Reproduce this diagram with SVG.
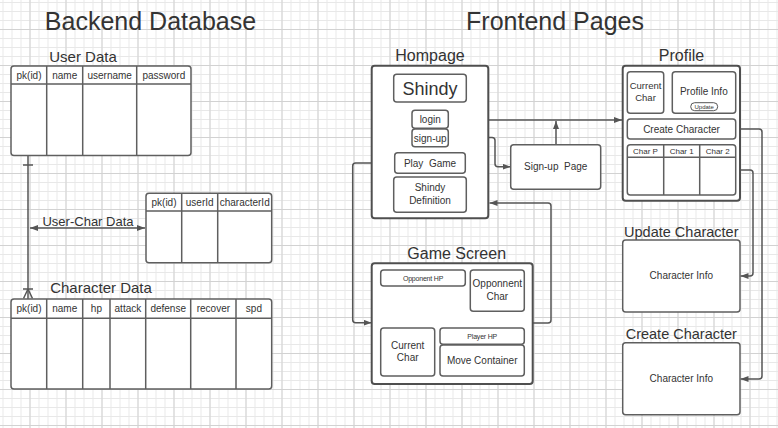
<svg xmlns="http://www.w3.org/2000/svg" width="778" height="428" viewBox="0 0 778 428">
<style>
text{font-family:"Liberation Sans",Arial,sans-serif;fill:#333;text-anchor:middle}
.box{fill:#fff;stroke:#5f5f5f;stroke-width:1.5}
.frame{fill:#fff;stroke:#4f4f4f;stroke-width:2}
.ln{stroke:#5f5f5f;stroke-width:1.5;fill:none}
.con{stroke:#555;stroke-width:1.5;fill:none}
.arr{marker-end:url(#ah)}
.t10{font-size:10px}
.title{font-size:25px}
.lab{font-size:15px}
.lab16{font-size:16px}
</style>
<defs>
<pattern id="gmin" patternUnits="userSpaceOnUse" x="2.5" y="2" width="9" height="9">
<path d="M0.5 0V9M0 0.5H9" stroke="#e8e8e8" stroke-width="1" fill="none"/>
</pattern>
<pattern id="gmaj" patternUnits="userSpaceOnUse" x="29.5" y="29" width="36" height="36">
<path d="M0.5 0V36M0 0.5H36" stroke="#d2d2d2" stroke-width="1" fill="none"/>
</pattern>
<marker id="ah" markerUnits="userSpaceOnUse" markerWidth="9" markerHeight="7" refX="8" refY="3" orient="auto-start-reverse">
<path d="M0,0 L8,3 L0,6 z" fill="#555"/>
</marker>
</defs>
<rect width="778" height="428" fill="#fff"/>
<rect width="778" height="428" fill="url(#gmin)"/>
<rect width="778" height="428" fill="url(#gmaj)"/>

<text class="title" x="150.5" y="30">Backend Database</text>
<text class="title" x="555" y="30">Frontend Pages</text>

<g id="connectors">
<path class="con" d="M28,156V299"/>
<path class="con" d="M23,165H33"/>
<path class="con" d="M23,289H33M28,289L23.5,298.5M28,289L32.5,298.5"/>
<path class="con" d="M30,228H145" marker-start="url(#ah)" marker-end="url(#ah)"/>
<text x="88" y="226" style="font-size:13px">User-Char Data</text>
<path class="con arr" d="M448.3,120H622"/>
<path class="con arr" d="M556,144.7V121"/>
<path class="con arr" d="M448.3,137.5H492Q495,137.5 495,140.5V163.7Q495,166.7 498,166.7H510.5"/>
<path class="con arr" d="M394.7,163H355.7Q352.7,163 352.7,166V319.7Q352.7,322.7 355.7,322.7H371.5"/>
<path class="con arr" d="M532.7,323H548Q551,323 551,320V206Q551,203 548,203H489.5"/>
<path class="con arr" d="M735.7,129H759Q762,129 762,132V376Q762,379 759,379H740.5"/>
<path class="con arr" d="M735.7,170H750Q753,170 753,173V273Q753,276 750,276H740.5"/>
</g>

<g id="user-data">
<text class="lab" x="83" y="62">User Data</text>
<rect class="box" x="11" y="66" width="180" height="89.5" rx="3"/>
<path class="ln" d="M11,84H191M46.7,66V155.5M82.7,66V155.5M136.7,66V155.5"/>
<text class="t10" x="29" y="78.5">pk(id)</text>
<text class="t10" x="64.7" y="78.5">name</text>
<text class="t10" x="109.7" y="78.5">username</text>
<text class="t10" x="163.8" y="78.5">password</text>
</g>

<g id="user-char-data">
<rect class="box" x="146" y="193.3" width="125.7" height="69.4" rx="3"/>
<path class="ln" d="M146,211H271.7M181.7,193.3V262.7M217.7,193.3V262.7"/>
<text class="t10" x="164" y="205.5">pk(id)</text>
<text class="t10" x="199.7" y="205.5">userId</text>
<text class="t10" x="244.7" y="205.5">characterId</text>
</g>

<g id="character-data">
<text class="lab" x="101" y="293">Character Data</text>
<rect class="box" x="11" y="299" width="260.7" height="90" rx="3"/>
<path class="ln" d="M11,318.3H271.7M46.7,299V389M82.7,299V389M110,299V389M145.7,299V389M190.7,299V389M236,299V389"/>
<text class="t10" x="29" y="311.5">pk(id)</text>
<text class="t10" x="64.7" y="311.5">name</text>
<text class="t10" x="96.4" y="311.5">hp</text>
<text class="t10" x="127.9" y="311.5">attack</text>
<text class="t10" x="168.2" y="311.5">defense</text>
<text class="t10" x="213.4" y="311.5">recover</text>
<text class="t10" x="253.9" y="311.5">spd</text>
</g>

<g id="hompage">
<text class="lab16" x="430" y="61">Hompage</text>
<rect class="frame" x="371.7" y="65.7" width="116.6" height="152.6" rx="3"/>
<rect class="box" x="393.7" y="74.3" width="72.6" height="27.7" rx="3"/>
<text x="430" y="94.5" style="font-size:18px">Shindy</text>
<rect class="box" x="412" y="110.3" width="36.3" height="18" rx="3"/>
<text class="t10" x="430.2" y="123">login</text>
<rect class="box" x="412" y="129" width="36.3" height="17.7" rx="3"/>
<text class="t10" x="430.2" y="141.5">sign-up</text>
<rect class="box" x="394.7" y="152.7" width="70.6" height="20.6" rx="3"/>
<text class="t10" x="430" y="166.5" style="white-space:pre">Play  Game</text>
<rect class="box" x="393.7" y="177" width="72.6" height="35.3" rx="3"/>
<text class="t10" x="430" y="191">Shindy</text>
<text class="t10" x="430" y="203.5">Definition</text>
</g>

<g id="signup-page">
<rect class="box" x="510.7" y="144.7" width="90" height="44.6" rx="3"/>
<text class="t10" x="555.7" y="169.5" style="white-space:pre">Sign-up  Page</text>
</g>

<g id="game-screen">
<text class="lab16" x="456.7" y="259">Game Screen</text>
<rect class="frame" x="371.7" y="263.3" width="161" height="120.7" rx="3"/>
<rect class="box" x="380.7" y="270" width="84.6" height="16" rx="3"/>
<text x="423" y="280.5" style="font-size:7px;letter-spacing:-0.2px">Opponent HP</text>
<rect class="box" x="470.3" y="270" width="54" height="41.3" rx="3"/>
<text class="t10" x="497.3" y="287">Opponnent</text>
<text class="t10" x="497.3" y="299.5">Char</text>
<rect class="box" x="380.7" y="328" width="54" height="48" rx="3"/>
<text class="t10" x="407.7" y="348.5">Current</text>
<text class="t10" x="407.7" y="361">Char</text>
<rect class="box" x="440" y="328" width="84.3" height="16.3" rx="3"/>
<text x="482.2" y="339" style="font-size:7px;letter-spacing:-0.2px">Player HP</text>
<rect class="box" x="440" y="345" width="84.3" height="31" rx="3"/>
<text class="t10" x="482.2" y="364">Move Container</text>
</g>

<g id="profile">
<text class="lab16" x="681.5" y="61">Profile</text>
<rect class="frame" x="622.7" y="65.7" width="117.3" height="135" rx="3"/>
<rect class="box" x="627.3" y="71.7" width="36.4" height="41.6" rx="3"/>
<text x="645.5" y="89" style="font-size:9.5px">Current</text>
<text x="645.5" y="100.5" style="font-size:9.5px">Char</text>
<rect class="box" x="672.3" y="71.7" width="63.4" height="41.6" rx="3"/>
<text class="t10" x="703.8" y="95">Profile Info</text>
<rect x="690.7" y="102.7" width="27" height="8" rx="4" fill="#fff" stroke="#555" stroke-width="1"/>
<text x="704.2" y="109" style="font-size:6px">Update</text>
<rect class="box" x="627.3" y="119" width="108.4" height="20" rx="3"/>
<text class="t10" x="681.5" y="132.5">Create Character</text>
<rect class="box" x="627.3" y="144.7" width="108.4" height="50.3" rx="3"/>
<path class="ln" d="M627.3,157.3H735.7M663.7,144.7V195M699.7,144.7V195"/>
<text x="645.5" y="154" style="font-size:8px">Char P</text>
<text x="681.7" y="154" style="font-size:8px">Char 1</text>
<text x="717.7" y="154" style="font-size:8px">Char 2</text>
</g>

<g id="update-character">
<text x="681.3" y="237" style="font-size:14.5px">Update Character</text>
<rect class="box" x="622.7" y="240" width="117.3" height="72" rx="3"/>
<text class="t10" x="681.3" y="279">Character Info</text>
</g>

<g id="create-character">
<text x="681.3" y="339" style="font-size:14.5px">Create Character</text>
<rect class="box" x="622.7" y="342.7" width="117.3" height="72" rx="3"/>
<text class="t10" x="681.3" y="381.5">Character Info</text>
</g>
</svg>
